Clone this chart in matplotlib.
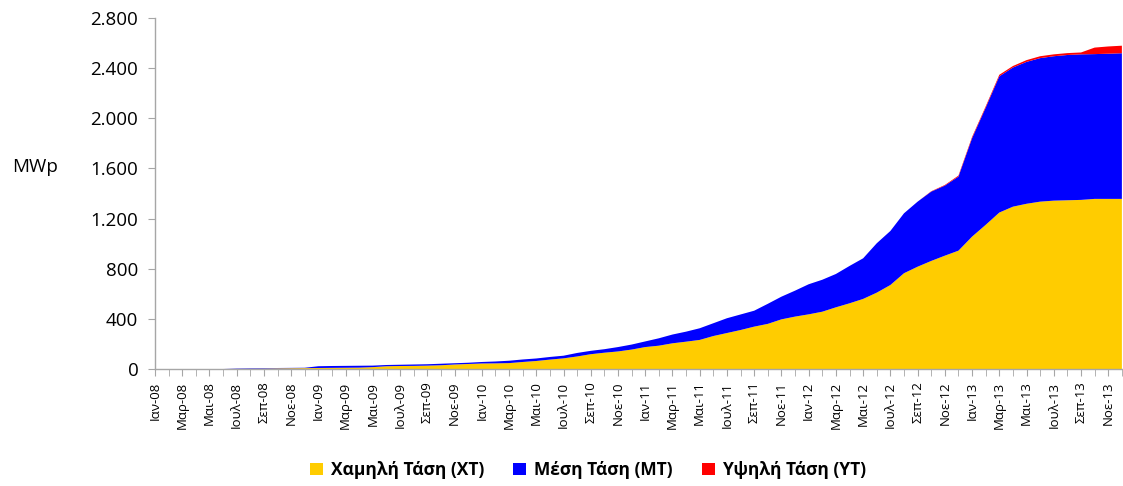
import numpy as np
import matplotlib
matplotlib.use("Agg")
import matplotlib.pyplot as plt
from matplotlib.patches import Patch
from matplotlib.ticker import FuncFormatter, MultipleLocator

plt.rcParams['font.family'] = ['Open Sans', 'DejaVu Sans']

months_gr = ['Ιαν', 'Φεβ', 'Μαρ', 'Απρ', 'Μαι', 'Ιουν', 'Ιουλ', 'Αυγ', 'Σεπ', 'Οκτ', 'Νοε', 'Δεκ']
years = ['08', '09', '10', '11', '12', '13']
categories = [f"{m}-{y}" for y in years for m in months_gr]

# Low voltage (XT), MWp
xt = [0, 0, 0, 0, 0, 0, 1, 2, 3, 5, 6, 7,
      8, 9, 10, 11, 15, 22, 24, 25, 27, 30, 36, 40,
      44, 45, 47, 56, 64, 75, 85, 100, 118, 130, 140, 155,
      175, 186, 205, 218, 232, 263, 287, 311, 338, 360, 396, 418,
      436, 457, 492, 524, 559, 609, 670, 764, 816, 862, 904, 944,
      1056, 1150, 1248, 1295, 1318, 1335, 1343, 1346, 1349, 1357, 1357, 1357]
# Cumulative XT + MT (top of the blue area)
xt_mt = [0, 0, 0, 0, 0, 0, 4, 6, 7, 8, 9, 10,
         22, 24, 25, 26, 27, 32, 34, 36, 38, 42, 46, 50,
         56, 60, 66, 76, 84, 96, 106, 128, 145, 158, 175, 195,
         220, 245, 275, 298, 325, 365, 405, 435, 465, 520, 577, 625,
         676, 712, 758, 822, 883, 1003, 1101, 1242, 1335, 1415, 1463, 1535,
         1841, 2085, 2335, 2405, 2450, 2480, 2495, 2505, 2510, 2512, 2515, 2519]
mt = [a - b for a, b in zip(xt_mt, xt)]
# High voltage (YT), MWp
yt = [0] * 57 + [3, 5, 8, 10, 10, 12, 12, 14, 15, 15, 15, 15, 52, 58, 60]

labels = ['Χαμηλή Τάση (ΧΤ)', 'Μέση Τάση (ΜΤ)', 'Υψηλή Τάση (ΥΤ)']
colors = ['#FFCC00', '#0000FF', '#FF0000']

fig = plt.figure(figsize=(11.23, 4.86), dpi=100)
ax = fig.add_axes([155 / 1123, 1 - 369 / 486, 1 - 155 / 1123 - 0.001, (369 - 18) / 486])

x = np.arange(len(categories))
ax.stackplot(x, xt, mt, yt, colors=colors, linewidth=0)

ax.set_xlim(0, len(categories) - 1)
ax.set_ylim(0, 2800)
ax.yaxis.set_major_locator(MultipleLocator(400))
ax.yaxis.set_major_formatter(FuncFormatter(lambda v, p: f"{int(v):,}".replace(',', '.')))

ax.set_xticks(x[::2])
ax.set_xticklabels(categories[::2], rotation=90, fontsize=9.5)
ax.set_xticks(x, minor=True)

grey = '#A6A6A6'
for s in ['top', 'right']:
    ax.spines[s].set_visible(False)
for s in ['left', 'bottom']:
    ax.spines[s].set_color(grey)
    ax.spines[s].set_linewidth(1.0)
ax.tick_params(axis='y', colors=grey, labelcolor='black', labelsize=13.5, length=5, direction='out', pad=7)
ax.tick_params(axis='x', which='both', colors=grey, labelcolor='black', length=5, direction='out', pad=4)

fig.text(35 / 1123, 1 - 167 / 486, 'MWp', fontsize=13.5, ha='center', va='center')

handles = [Patch(facecolor=c, edgecolor='none') for c in colors]
fig.legend(handles, labels, loc='center', bbox_to_anchor=(588 / 1123, 1 - 470 / 486),
           ncol=3, frameon=False, handlelength=0.75, handleheight=0.75, handletextpad=0.45,
           columnspacing=1.7, prop={'weight': 'bold', 'size': 12.5})

fig.savefig('out.png', dpi=100)
